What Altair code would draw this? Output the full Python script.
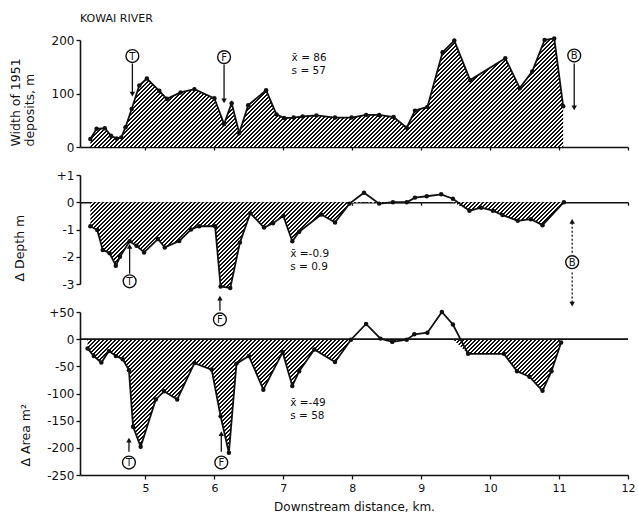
import math
import altair as alt
import pandas as pd

# ---------------- data ----------------
dist_width = [4.20, 4.29, 4.41, 4.50, 4.58, 4.65, 4.71, 4.80, 4.91, 5.02, 5.20, 5.31, 5.51, 5.71,
              6.00, 6.14, 6.25, 6.36, 6.49, 6.75, 6.90, 7.01, 7.15, 7.28, 7.48, 7.75, 7.99, 8.20,
              8.39, 8.60, 8.79, 8.91, 9.09, 9.31, 9.48, 9.71, 10.22, 10.43, 10.61, 10.79, 10.93, 11.06]
width_1951 = [15, 34, 35, 21, 16, 18, 37, 71, 115, 128, 105, 90, 102, 108,
              91, 43, 82, 26, 78, 106, 61, 54, 55, 57, 59, 55, 55, 60,
              60, 56, 36, 68, 75, 177, 199, 125, 166, 110, 141, 200, 203, 76]

dist_depth = [4.20, 4.30, 4.38, 4.48, 4.57, 4.63, 4.77, 4.87, 4.98, 5.18, 5.28, 5.49, 5.66, 5.78,
              6.01, 6.09, 6.23, 6.37, 6.52, 6.72, 6.85, 7.00, 7.13, 7.23, 7.55, 7.75, 7.96, 8.17,
              8.39, 8.59, 8.79, 8.91, 9.08, 9.29, 9.46, 9.70, 9.87, 10.04, 10.18, 10.40, 10.59, 10.76, 11.07]
delta_depth = [-0.88, -1.02, -1.75, -1.87, -2.33, -2.00, -1.43, -1.60, -1.84, -1.35, -1.66, -1.42, -1.00, -0.88,
               -0.88, -3.09, -3.15, -1.48, -0.40, -0.93, -0.77, -0.50, -1.43, -1.08, -0.45, -0.74, -0.05, 0.35,
               -0.05, 0.0, 0.0, 0.17, 0.22, 0.29, 0.13, -0.31, -0.20, -0.31, -0.47, -0.68, -0.62, -0.84, 0.0]

dist_area = [4.16, 4.25, 4.36, 4.47, 4.57, 4.67, 4.76, 4.82, 4.93, 5.15, 5.27, 5.46, 5.71, 5.96,
             6.09, 6.21, 6.32, 6.50, 6.71, 6.99, 7.13, 7.23, 7.45, 7.75, 7.98, 8.20, 8.41, 8.58,
             8.79, 8.90, 9.09, 9.30, 9.46, 9.68, 10.20, 10.39, 10.57, 10.76, 10.89, 11.03]
delta_area = [-17, -31, -43, -22, -31, -37, -57, -161, -198, -111, -96, -111, -44, -56,
              -142, -209, -45, -31, -93, -24, -86, -59, -19, -42, -1, 28, 1, -5,
              -1, 9, 12, 50, 27, -27, -27, -59, -69, -95, -59, -6]

x_ticks = [5, 6, 7, 8, 9, 10, 11, 12]
width_ticks = [0, 100, 200]
depth_ticks = [-3, -2, -1, 0, 1]
area_ticks = [-250, -200, -150, -100, -50, 0, 50]

stats_width = ["x\u0304 = 86", "s = 57"]
stats_depth = ["x\u0304 =-0.9", "s = 0.9"]
stats_area = ["x\u0304 =-49", "s = 58"]

# annotation symbols (letter, x km, y value) per panel
marks_width = [("T", 4.81, 170), ("F", 6.14, 168), ("B", 11.22, 171)]
marks_depth = [("T", 4.77, -2.9), ("F", 6.08, -4.3), ("B", 11.19, -2.2)]
marks_area = [("T", 4.76, -227), ("F", 6.10, -227)]

# arrows: (x, tail, head, direction, dashed)
arrows_width = [(4.81, 156, 99, "down", False), (6.14, 154, 86, "down", False),
                (11.22, 156, 73, "down", False)]
arrows_depth = [(4.77, -2.62, -1.62, "up", False), (6.08, -3.98, -3.52, "up", False),
                (11.19, -1.85, -0.70, "up", True), (11.19, -2.58, -3.74, "down", True)]
arrows_area = [(4.76, -207, -186, "up", False), (6.10, -207, -174, "up", False)]

# ---------------- layout / style ----------------
X_DOMAIN = [4.05, 12]
W = 548
H_TOP, H_MID, H_BOT = 107, 109, 163
FONT = "DejaVu Sans"
INK = "#111111"
XSCALE = alt.Scale(domain=X_DOMAIN, nice=False, zero=False)


def hatch(xs, ys, ydom, h, hperiod=4.0, frac=0.4):
    sx = W / (X_DOMAIN[1] - X_DOMAIN[0])
    sy = h / (ydom[1] - ydom[0])
    bw = (max(xs) - min(xs)) * sx
    bh = max(abs(v) for v in ys) * sy
    p = hperiod / math.sqrt(2)
    L = (bw + bh) / math.sqrt(2)
    n = max(1, int(math.ceil(L / p)))
    scale = n * p / L
    stops = []
    for k in range(n):
        a, b, c = k / n, (k + frac) / n, (k + 1) / n
        stops += [alt.GradientStop(color=INK, offset=a), alt.GradientStop(color=INK, offset=b),
                  alt.GradientStop(color="white", offset=b), alt.GradientStop(color="white", offset=c)]
    d = bw * bw + bh * bh
    return alt.LinearGradient(gradient="linear", stops=stops, x1=0, y1=0,
                              x2=scale * bw * (bw + bh) / d, y2=scale * bh * (bw + bh) / d)


def panel(xs, ys, ydom, h, yaxis, xaxis, stats, stat_pos, symbols, arrows, fill_clip):
    fill_vals = [min(v, 0) for v in ys] if fill_clip else list(ys)
    df = pd.DataFrame({"x": xs, "y": ys, "yf": fill_vals})
    yscale = alt.Scale(domain=ydom, nice=False, zero=False)
    base = alt.Chart(df)
    grad = hatch(xs, fill_vals, ydom, h)
    area = base.mark_area(fill=grad, opacity=1).encode(
        x=alt.X("x:Q", scale=XSCALE, axis=xaxis),
        y=alt.Y("yf:Q", scale=yscale, axis=yaxis),
        y2=alt.datum(0),
    )
    line = base.mark_line(color=INK, strokeWidth=1.8).encode(x="x:Q", y="y:Q")
    pts = base.mark_circle(color=INK, size=20, opacity=1).encode(x="x:Q", y="y:Q")

    sx0, sy0, sy1 = stat_pos
    sdf = pd.DataFrame({"x": [sx0, sx0], "y": [sy0, sy1], "t": stats})
    stat_txt = alt.Chart(sdf).mark_text(align="left", baseline="middle", font=FONT,
                                        fontSize=10.5, color=INK).encode(
        x="x:Q", y="y:Q", text="t:N")

    cdf = pd.DataFrame({"t": [s[0] for s in symbols], "x": [s[1] for s in symbols],
                        "y": [s[2] for s in symbols]})
    circ = alt.Chart(cdf).mark_circle(size=165, fill="white", stroke=INK, strokeWidth=1.4,
                                      opacity=1).encode(x="x:Q", y="y:Q")
    ctxt = alt.Chart(cdf).mark_text(font=FONT, fontSize=10, color=INK, baseline="middle",
                                    align="center", dy=0.5).encode(x="x:Q", y="y:Q", text="t:N")

    layers = [area, line, pts, stat_txt]
    for dashed in (False, True):
        sub = [a for a in arrows if a[4] == dashed]
        if not sub:
            continue
        adf = pd.DataFrame({"x": [a[0] for a in sub], "y1": [a[1] for a in sub],
                            "y2": [a[2] for a in sub]})
        kw = {"strokeDash": [2, 2]} if dashed else {}
        layers.append(alt.Chart(adf).mark_rule(color=INK, strokeWidth=1.3, **kw).encode(
            x="x:Q", y="y1:Q", y2="y2:Q"))
    for direction in ("up", "down"):
        sub = [a for a in arrows if a[3] == direction]
        if not sub:
            continue
        hdf = pd.DataFrame({"x": [a[0] for a in sub], "y": [a[2] for a in sub]})
        layers.append(alt.Chart(hdf).mark_point(
            shape="triangle-up" if direction == "up" else "triangle-down",
            filled=True, size=30, color=INK, opacity=1).encode(x="x:Q", y="y:Q"))
    layers += [circ, ctxt]
    return alt.layer(*layers).properties(width=W, height=h)


plus_expr = "datum.value > 0 ? '+' + datum.value : '' + datum.value"

top = panel(
    dist_width, width_1951, [0, 200], H_TOP,
    alt.Axis(values=width_ticks, tickCount=20, title=["Width of 1951", "deposits, m"],
             titleAngle=270, titleAlign="left", titleBaseline="bottom", titleX=-58, titleY=106,
             titleLineHeight=14, titleFontSize=12.5, labelFontSize=12, tickSize=4,
             labelPadding=2, labelOverlap=False),
    alt.Axis(values=x_ticks, tickCount=20, labels=False, title=None, tickSize=3),
    stats_width, (7.12, 166, 142), marks_width, arrows_width, False,
).properties(title=alt.TitleParams(text="KOWAI RIVER", anchor="start", frame="group",
                                   fontSize=11, fontWeight="normal", font=FONT, color=INK,
                                   offset=10))

mid = panel(
    dist_depth, delta_depth, [-3, 1], H_MID,
    alt.Axis(values=depth_ticks, tickCount=20, labelExpr=plus_expr, title="\u0394 Depth m",
             titleAngle=270, titleAlign="left", titleBaseline="bottom", titleX=-54, titleY=106,
             titleFontSize=12.5, labelFontSize=12, tickSize=4, labelPadding=2,
             labelOverlap=False),
    alt.Axis(values=x_ticks, tickCount=20, labels=False, title=None, tickSize=3,
             offset=-H_MID * 3 / 4),
    stats_depth, (7.10, -1.90, -2.38), marks_depth, arrows_depth, True,
)

zero_rule = alt.Chart(pd.DataFrame({"z": [0]})).mark_rule(color=INK, strokeWidth=1.6).encode(y="z:Q")

bot_panel = panel(
    dist_area, delta_area, [-250, 50], H_BOT,
    alt.Axis(values=area_ticks, tickCount=20, labelExpr=plus_expr, title="\u0394 Area m\u00b2",
             titleAngle=270, titleAlign="left", titleBaseline="bottom", titleX=-48, titleY=154,
             titleFontSize=12.5, labelFontSize=12, tickSize=4, labelPadding=2,
             labelOverlap=False),
    alt.Axis(values=x_ticks, tickCount=20, format="d", title="Downstream distance, km.",
             tickSize=4, labelFontSize=11, titleFontSize=12, titlePadding=8, labelPadding=3,
             labelOverlap=False, labelFlush=False),
    stats_area, (7.10, -117, -141), marks_area, arrows_area, True,
)
bot = alt.layer(bot_panel, zero_rule).properties(width=W, height=H_BOT)

chart = alt.vconcat(top, mid, bot, spacing=28, bounds="flush").properties(
    padding={"left": 9, "top": 13, "right": 0, "bottom": 3}
).configure_axis(
    labelFont=FONT, titleFont=FONT, labelColor=INK, titleColor=INK, domainColor=INK,
    tickColor=INK, domainWidth=1.6, tickWidth=1.3, grid=False, titleFontWeight="normal",
    labelOverlap=False
).configure_view(stroke=None)

chart.save("out.html", embed_options={"renderer": "svg", "actions": False})
